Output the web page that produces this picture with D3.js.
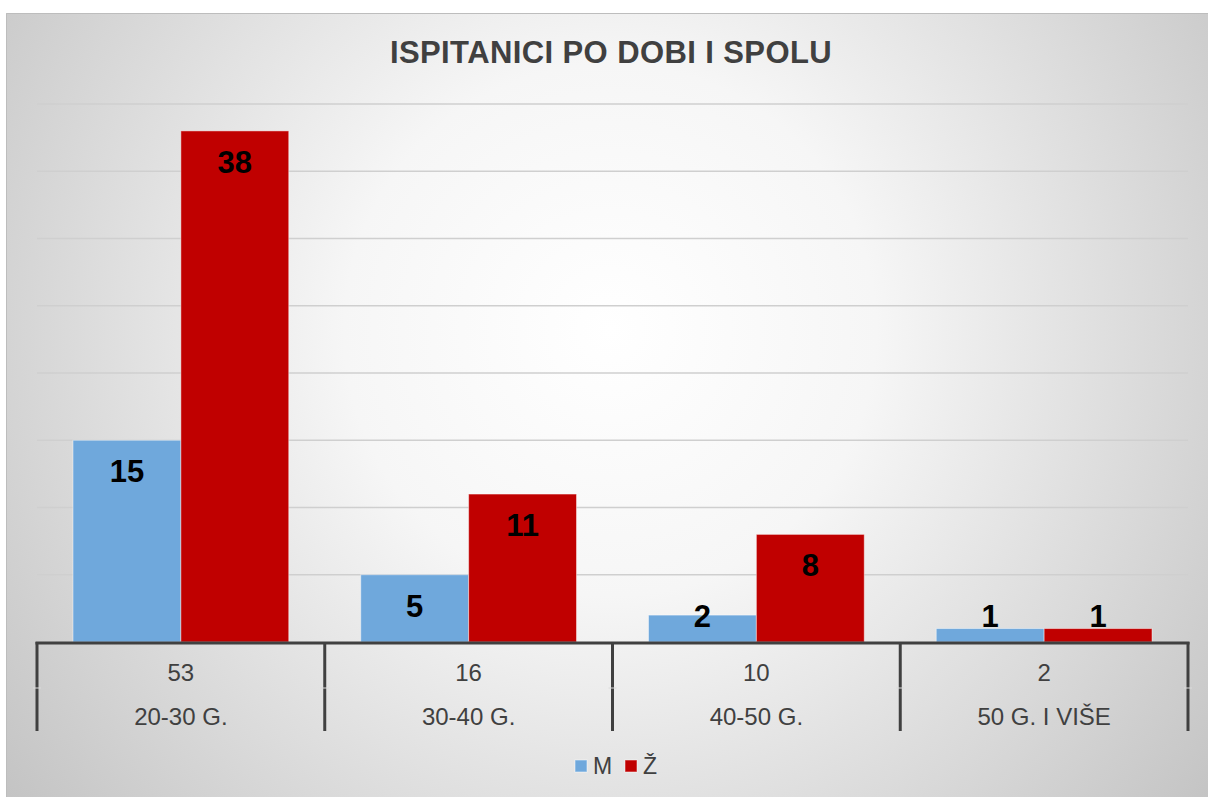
<!DOCTYPE html>
<html>
<head>
<meta charset="utf-8">
<script src="https://cdn.jsdelivr.net/npm/d3@7"></script>
<style>
  body { margin: 0; background: #fff; }
  svg { display: block; font-family: "Liberation Sans", Arial, sans-serif; }
</style>
</head>
<body>
<div id="chart"></div>
<script>
// chart data
var categories = ["20-30 G.", "30-40 G.", "40-50 G.", "50 G. I VIŠE"];
var totals = [53, 16, 10, 2];
var seriesNames = ["M", "Ž"];
var valuesM = [15, 5, 2, 1];
var valuesZ = [38, 11, 8, 1];
var gridTicks = [5, 10, 15, 20, 25, 30, 35, 40];

var colors = {"M": "#6fa8dc", "Ž": "#c00000"};

var W = 1208, H = 797;
var plot = {left: 37, right: 1188, top: 104, bottom: 642};

var svg = d3.select("#chart").append("svg")
    .attr("width", W)
    .attr("height", H);

// background gradient
var defs = svg.append("defs");
var grad = defs.append("radialGradient")
    .attr("id", "bg")
    .attr("gradientUnits", "userSpaceOnUse")
    .attr("cx", 610).attr("cy", 330).attr("r", 760);
grad.append("stop").attr("offset", "0%").attr("stop-color", "#ffffff");
grad.append("stop").attr("offset", "35%").attr("stop-color", "#f6f6f6");
grad.append("stop").attr("offset", "100%").attr("stop-color", "#c4c4c4");

svg.append("rect")
    .attr("x", 6).attr("y", 13)
    .attr("width", W - 6).attr("height", H - 13)
    .attr("fill", "url(#bg)");
svg.append("path")
    .attr("d", "M6.5," + H + "V13.5H" + W)
    .attr("fill", "none")
    .attr("stroke", "#bdbdbd")
    .attr("stroke-width", 1);

// title
svg.append("text")
    .attr("x", 611)
    .attr("y", 63)
    .attr("text-anchor", "middle")
    .attr("font-size", "31px")
    .attr("letter-spacing", "0.4px")
    .attr("font-weight", "bold")
    .attr("fill", "#404040")
    .text("ISPITANICI PO DOBI I SPOLU");

var x0 = d3.scaleBand()
    .domain(categories)
    .range([plot.left, plot.right]);

var x1 = d3.scaleBand()
    .domain(seriesNames)
    .range([36, x0.bandwidth() - 36]);

var y = d3.scaleLinear()
    .domain([0, 40])
    .range([plot.bottom, plot.top]);

// gridlines
svg.append("g")
  .selectAll("line")
  .data(gridTicks)
  .join("line")
    .attr("x1", plot.left)
    .attr("x2", plot.right)
    .attr("y1", function(d) { return y(d); })
    .attr("y2", function(d) { return y(d); })
    .attr("stroke", "#cfcfcf")
    .attr("stroke-width", 1.5);

var rows = categories.map(function(c, i) {
  return {cat: c, vals: [{s: "M", v: valuesM[i]}, {s: "Ž", v: valuesZ[i]}]};
});

var groups = svg.append("g")
  .selectAll("g")
  .data(rows)
  .join("g")
    .attr("transform", function(d) { return "translate(" + x0(d.cat) + ",0)"; });

groups.selectAll("rect")
  .data(function(d) { return d.vals; })
  .join("rect")
    .attr("x", function(d) { return x1(d.s); })
    .attr("y", function(d) { return y(d.v); })
    .attr("width", x1.bandwidth())
    .attr("height", function(d) { return y(0) - y(d.v); })
    .attr("fill", function(d) { return colors[d.s]; })
    .attr("stroke", "rgba(255,255,255,0.45)")
    .attr("stroke-width", 1);

groups.selectAll("text")
  .data(function(d) { return d.vals; })
  .join("text")
    .attr("x", function(d) { return x1(d.s) + x1.bandwidth() / 2; })
    .attr("y", function(d) { return Math.min(y(d.v) + 31, y(0) - 26); })
    .attr("dy", "0.35em")
    .attr("text-anchor", "middle")
    .attr("font-size", "31px")
    .attr("font-weight", "bold")
    .attr("fill", "#000")
    .text(function(d) { return d.v; });

// x axis with two label rows
var axis = svg.append("g");
axis.append("line")
    .attr("x1", plot.left - 1.5).attr("x2", plot.right + 1.5)
    .attr("y1", plot.bottom + 1).attr("y2", plot.bottom + 1)
    .attr("stroke", "#404040")
    .attr("stroke-width", 3);

var edges = categories.map(function(c) { return x0(c); }).concat([plot.right]);
axis.selectAll("line.tick")
  .data(edges)
  .join("line")
    .attr("class", "tick")
    .attr("x1", function(d) { return d; })
    .attr("x2", function(d) { return d; })
    .attr("y1", plot.bottom)
    .attr("y2", 731)
    .attr("stroke", "#404040")
    .attr("stroke-width", 3);

axis.selectAll("line.mid")
  .data(edges)
  .join("line")
    .attr("class", "mid")
    .attr("x1", function(d) { return d - 4; })
    .attr("x2", function(d) { return d + 4; })
    .attr("y1", 688)
    .attr("y2", 688)
    .attr("stroke", "#dadada")
    .attr("stroke-width", 1);

axis.selectAll("text.total")
  .data(categories)
  .join("text")
    .attr("class", "total")
    .attr("x", function(d) { return x0(d) + x0.bandwidth() / 2; })
    .attr("y", 673)
    .attr("dy", "0.35em")
    .attr("text-anchor", "middle")
    .attr("font-size", "24px")
    .attr("fill", "#404040")
    .text(function(d, i) { return totals[i]; });

axis.selectAll("text.cat")
  .data(categories)
  .join("text")
    .attr("class", "cat")
    .attr("x", function(d) { return x0(d) + x0.bandwidth() / 2; })
    .attr("y", 717)
    .attr("dy", "0.35em")
    .attr("text-anchor", "middle")
    .attr("font-size", "24px")
    .attr("fill", "#404040")
    .text(function(d) { return d; });

// legend
var legendX = [575, 625];
var legend = svg.append("g")
  .selectAll("g")
  .data(seriesNames)
  .join("g")
    .attr("transform", function(d, i) { return "translate(" + legendX[i] + ",760)"; });

legend.append("rect")
    .attr("width", 12).attr("height", 12)
    .attr("fill", function(d) { return colors[d]; })
    .attr("stroke", "rgba(255,255,255,0.5)");

legend.append("text")
    .attr("x", 18)
    .attr("y", 6)
    .attr("dy", "0.35em")
    .attr("font-size", "23px")
    .attr("fill", "#404040")
    .text(function(d) { return d; });
</script>
</body>
</html>
